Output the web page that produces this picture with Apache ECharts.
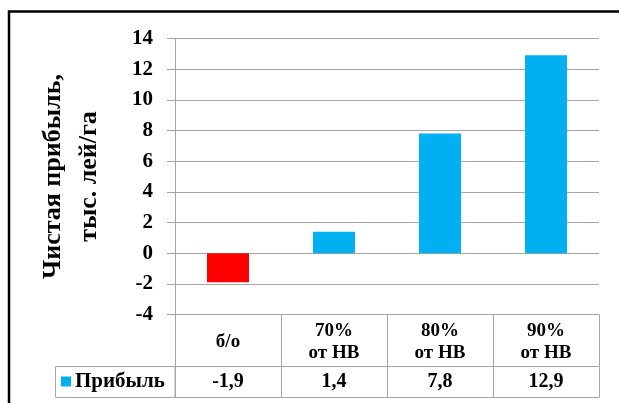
<!DOCTYPE html>
<html>
<head>
<meta charset="utf-8">
<script src="https://cdn.jsdelivr.net/npm/echarts@6/dist/echarts.min.js"></script>
<style>
  html, body { margin: 0; padding: 0; background: #fff; }
  #chart { width: 619px; height: 403px; }
</style>
</head>
<body>
<div id="chart"></div>
<script>
// Net profit by irrigation regime
const categories = ['б/о', '70%\nот НВ', '80%\nот НВ', '90%\nот НВ'];
const profit = [-1.9, 1.4, 7.8, 12.9];
const seriesName = 'Прибыль';
const yTicks = { min: -4, max: 14, step: 2 };

const FONT = '"Liberation Serif", "Times New Roman", serif';
const GRID_COLOR = '#A6A6A6';
const BLUE = '#00B0F0';
const RED = '#FF0000';

const fmt = v => String(v).replace('.', ',');

const chart = echarts.init(document.getElementById('chart'), null, { renderer: 'canvas' });

// table rows under the plot are built from stacked category axes
const tableAxis = (offset, tickLen, label) => ({
  type: 'category',
  data: categories,
  position: 'bottom',
  offset: offset,
  axisLine: { show: true, onZero: false, lineStyle: { color: GRID_COLOR, width: 1 } },
  axisTick: { show: tickLen > 0, length: tickLen, interval: 0, lineStyle: { color: GRID_COLOR, width: 1 } },
  axisLabel: label
});

chart.setOption({
  animation: false,
  backgroundColor: '#fff',
  textStyle: { fontFamily: FONT },
  grid: { left: 175, right: 20, top: 38.5, bottom: 88.5, containLabel: false },
  legend: {
    data: [seriesName],
    left: 61,
    top: 371,
    padding: 0,
    icon: 'rect',
    itemWidth: 10,
    itemHeight: 10,
    itemGap: 4,
    textStyle: { fontFamily: FONT, fontWeight: 'bold', fontSize: 21, color: '#000', padding: [0, 0, 0, -1] }
  },
  xAxis: [
    tableAxis(0, 52, {
      interval: 0,
      margin: 28,
      verticalAlign: 'middle',
      lineHeight: 22,
      fontFamily: FONT,
      fontWeight: 'bold',
      fontSize: 19,
      color: '#000'
    }),
    tableAxis(52, 31, {
      interval: 0,
      margin: 15.5,
      verticalAlign: 'middle',
      fontFamily: FONT,
      fontWeight: 'bold',
      fontSize: 20,
      color: '#000',
      formatter: (val, idx) => fmt(profit[idx])
    }),
    tableAxis(83, 0, { show: false })
  ],
  yAxis: {
    type: 'value',
    min: yTicks.min,
    max: yTicks.max,
    interval: yTicks.step,
    name: 'Чистая прибыль,\nтыс. лей/га',
    nameLocation: 'middle',
    nameRotate: 90,
    nameGap: 68,
    nameTextStyle: {
      fontFamily: FONT,
      fontWeight: 'bold',
      fontSize: 26,
      lineHeight: 36,
      color: '#000'
    },
    axisLine: { show: true, lineStyle: { color: GRID_COLOR, width: 1 } },
    axisTick: { show: true, length: 8, lineStyle: { color: GRID_COLOR, width: 1 } },
    splitLine: { show: true, lineStyle: { color: GRID_COLOR, width: 1 } },
    axisLabel: {
      margin: 22,
      fontFamily: FONT,
      fontWeight: 'bold',
      fontSize: 21,
      color: '#000'
    }
  },
  series: [
    {
      name: seriesName,
      type: 'bar',
      xAxisIndex: 0,
      barWidth: 42,
      itemStyle: { color: BLUE },
      data: profit.map(v => (v < 0 ? { value: v, itemStyle: { color: RED } } : v))
    }
  ],
  graphic: [
    {
      // legend cell of the data table
      type: 'rect',
      shape: { x: 55.5, y: 366.5, width: 119.5, height: 31 },
      style: { fill: 'none', stroke: GRID_COLOR, lineWidth: 1 },
      silent: true
    },
    {
      // chart frame
      type: 'rect',
      shape: { x: 9, y: 11.5, width: 700, height: 500 },
      style: { fill: 'none', stroke: '#000', lineWidth: 2.5 },
      silent: true,
      z: 100
    }
  ]
});
</script>
</body>
</html>
